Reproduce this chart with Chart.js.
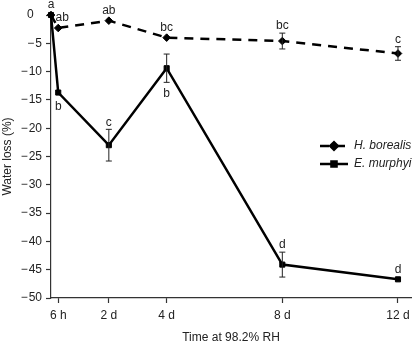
<!DOCTYPE html>
<html>
<head>
<meta charset="utf-8">
<script src="https://cdn.jsdelivr.net/npm/chart.js@4.4.0/dist/chart.umd.min.js"></script>
<style>
html, body { margin: 0; padding: 0; background: #fff; }
</style>
</head>
<body>
<canvas id="myChart" width="416" height="345"></canvas>
<script>
// Sampling times in days (0.25 = 6 h)
const times = [0, 0.25, 2, 4, 8, 12];
const tickDays = [0.25, 2, 4, 8, 12];
const tickLabels = ['6 h', '2 d', '4 d', '8 d', '12 d'];
const yTicks = [0, -5, -10, -15, -20, -25, -30, -35, -40, -45, -50];

// H. borealis
const borealisLoss = [0, -2.3, -1.0, -4.0, -4.6, -6.8];
const borealisErr = [0, 0.3, 0.3, 0.3, 1.4, 1.2];
const borealisLetters = ['a', 'ab', 'ab', 'bc', 'bc', 'c'];

// E. murphyi
const murphyiLoss = [0, -13.7, -23.0, -9.4, -44.1, -46.7];
const murphyiErr = [0, 0.4, 2.8, 2.5, 2.2, 0.3];
const murphyiLetters = ['', 'b', 'c', 'b', 'd', 'd'];
const murphyiBelow = [false, true, false, true, false, false];

Chart.defaults.font.family = '"Liberation Sans", Arial, sans-serif';
Chart.defaults.font.size = 12;
Chart.defaults.color = '#222';

const ctx = document.getElementById('myChart').getContext('2d');

// error bars + significance letters
const errorBars = {
    id: 'errorBars',
    afterDatasetsDraw(chart) {
        const c = chart.ctx;
        const x = chart.scales.x, y = chart.scales.y;
        c.save();
        c.strokeStyle = '#222';
        c.lineWidth = 1;
        c.fillStyle = '#222';
        c.font = '12px "Liberation Sans", Arial, sans-serif';
        c.textAlign = 'center';
        c.textBaseline = 'middle';
        chart.data.datasets.forEach(ds => {
            ds.data.forEach((p, i) => {
                const px = x.getPixelForValue(p.x);
                const e = ds.errors[i];
                const top = y.getPixelForValue(p.y + e);
                const bot = y.getPixelForValue(p.y - e);
                if (e > 0.5) {
                    c.beginPath();
                    c.moveTo(px, top); c.lineTo(px, bot);
                    c.moveTo(px - 3, top); c.lineTo(px + 3, top);
                    c.moveTo(px - 3, bot); c.lineTo(px + 3, bot);
                    c.stroke();
                }
                const txt = ds.letters[i];
                if (!txt) return;
                if (ds.below && ds.below[i]) {
                    c.fillText(txt, px, Math.max(bot, y.getPixelForValue(p.y) + 3) + 11);
                } else {
                    const off = i === 1 ? 4 : 0;
                    c.fillText(txt, px + off, Math.min(top, y.getPixelForValue(p.y) - 3) - 7);
                }
            });
        });
        c.restore();
    }
};

// legend on the right side of the plot
const sideLegend = {
    id: 'sideLegend',
    afterDraw(chart) {
        const c = chart.ctx;
        chart.data.datasets.forEach((ds, i) => {
            const yy = 146 + i * 18;
            c.save();
            c.strokeStyle = '#000';
            c.fillStyle = '#000';
            c.lineWidth = ds.borderWidth;
            c.setLineDash(ds.borderDash || []);
            c.beginPath();
            c.moveTo(320, yy);
            c.lineTo(348, yy);
            c.stroke();
            c.setLineDash([]);
            Chart.helpers.drawPoint(c, { pointStyle: ds.pointStyle, radius: ds.pointRadius, borderWidth: 1 }, 334, yy);
            c.fillStyle = '#222';
            c.font = 'italic 12px "Liberation Sans", Arial, sans-serif';
            c.textAlign = 'left';
            c.textBaseline = 'middle';
            c.fillText(ds.label, 354, yy);
            c.restore();
        });
    }
};

const myChart = new Chart(ctx, {
    type: 'line',
    data: {
        datasets: [
            {
                label: 'H. borealis',
                data: times.map((t, i) => ({ x: t, y: borealisLoss[i] })),
                errors: borealisErr,
                letters: borealisLetters,
                borderColor: '#000',
                backgroundColor: '#000',
                borderWidth: 2.5,
                borderDash: [9, 7],
                pointStyle: 'rectRot',
                pointRadius: 3.8,
                pointBorderWidth: 1,
                tension: 0,
                clip: false
            },
            {
                label: 'E. murphyi',
                data: times.map((t, i) => ({ x: t, y: murphyiLoss[i] })),
                errors: murphyiErr,
                letters: murphyiLetters,
                below: murphyiBelow,
                borderColor: '#000',
                backgroundColor: '#000',
                borderWidth: 2.5,
                pointStyle: 'rect',
                pointRadius: 3.6,
                pointBorderWidth: 1,
                tension: 0,
                clip: false
            }
        ]
    },
    options: {
        responsive: false,
        animation: false,
        layout: { padding: { top: 15, right: 0, left: 0, bottom: 0 } },
        plugins: {
            legend: { display: false },
            tooltip: { enabled: false }
        },
        scales: {
            x: {
                type: 'linear',
                min: 0,
                max: 12.45,
                afterBuildTicks: s => { s.ticks = tickDays.map(v => ({ value: v })); },
                afterFit: s => { s.height = 47; },
                ticks: {
                    autoSkip: false,
                    maxRotation: 0,
                    padding: 5,
                    callback: (v, i) => tickLabels[i]
                },
                grid: { drawOnChartArea: false, tickLength: 5, color: '#333', tickWidth: 1.2 },
                border: { color: '#333', width: 1.2 },
                title: { display: true, text: 'Time at 98.2% RH', padding: { top: 6, bottom: 0 } }
            },
            y: {
                min: -50,
                max: 0,
                afterBuildTicks: s => { s.ticks = yTicks.map(v => ({ value: v })); },
                afterFit: s => { s.width = 51; },
                ticks: {
                    padding: 4,
                    callback: v => v === 0 ? '0\u2002\u2009' : '\u2212\u200a' + Math.abs(v)
                },
                grid: { drawOnChartArea: false, tickLength: 5, color: '#333', tickWidth: 1.2 },
                border: { color: '#333', width: 1.2 },
                title: { display: true, text: 'Water loss (%)', padding: 0 }
            }
        }
    },
    plugins: [errorBars, sideLegend]
});
</script>
</body>
</html>
